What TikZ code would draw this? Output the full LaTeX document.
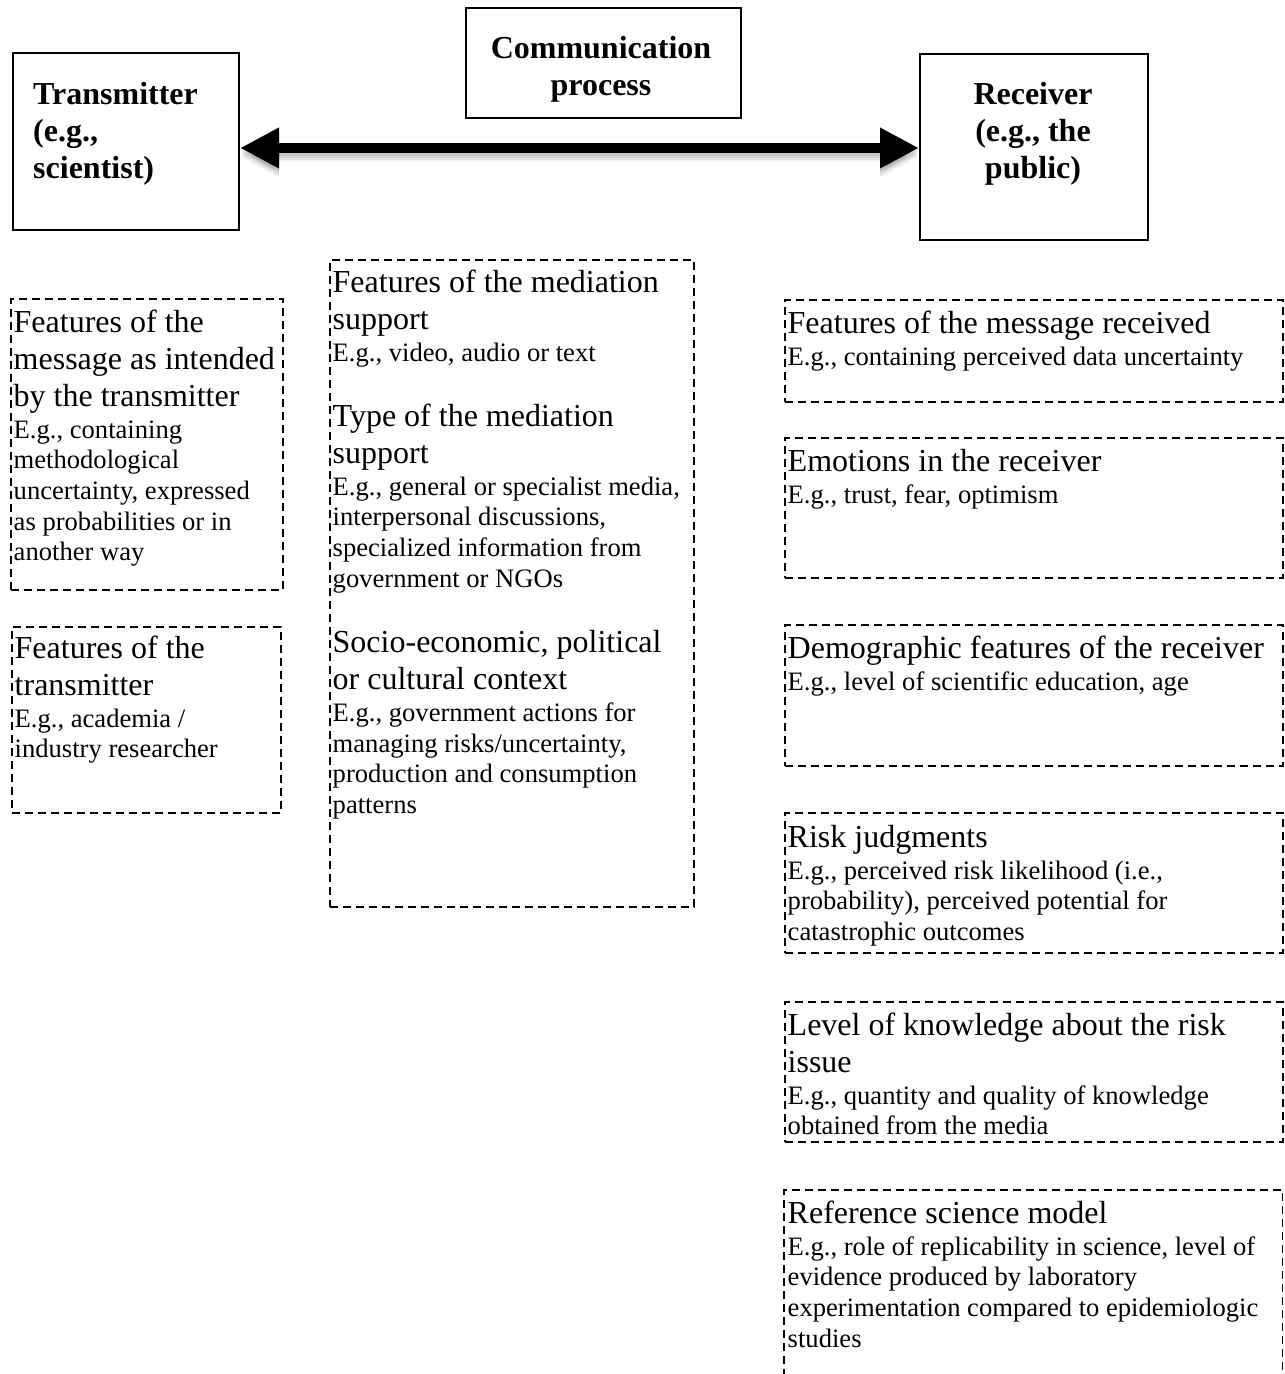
\documentclass[tikz,border=0pt]{standalone}
\usepackage{fontspec}
\setmainfont{Liberation Serif}
\usetikzlibrary{arrows.meta,calc}
\newcommand\HdFont{\fontsize{32}{37}\selectfont\frenchspacing\spaceskip=0pt\xspaceskip=0pt\relax}
\newcommand\SmFont{\fontsize{26.6}{30.7}\selectfont\frenchspacing\spaceskip=0pt\xspaceskip=0pt\relax}
\newcommand\BdFont{\fontsize{32}{37}\selectfont\bfseries\frenchspacing\spaceskip=0pt\xspaceskip=0pt\relax}
\newcommand\HdPar[1]{{\HdFont #1\par}}
\newcommand\SmPar[1]{\vskip 1.3pt{\SmFont #1\par}}
\newcommand\HdAfterSm{\vskip -2.5pt}
\newcommand\BlankSm{\vskip 30.7pt}
\begin{document}
\begin{tikzpicture}[x=1pt,y=-1pt,
  sbox/.style={draw=black, line width=2pt, rectangle, inner sep=0pt, anchor=north west},
  dbox/.style={draw=black, line width=1.5pt, dash pattern=on 8pt off 5pt, rectangle, inner sep=0pt, anchor=north west},
  obox/.style={rectangle, inner sep=0pt, anchor=north west},
  ttl/.style={inner sep=0pt, font=\BdFont, text width=250pt, align=flush center, anchor=base},
  ttll/.style={inner sep=0pt, font=\BdFont, text width=200pt, align=flush left, anchor=base west},
  txt/.style={inner sep=0pt, align=flush left, anchor=base west},
  bigarrow/.style={line width=10pt, {Triangle[length=39pt,width=38pt]}-{Triangle[length=39pt,width=38pt]}}
]
\useasboundingbox[fill=white] (0,0) rectangle (1285,1374);

% top boxes
\node[sbox, minimum width=226pt, minimum height=177pt] (T) at (12,52) {};
\node[ttll] (Tt) at (33,104) {\BdFont Transmitter\\(e.g.,\\scientist)};
\node[sbox, minimum width=275pt, minimum height=110pt] (C) at (465,7) {};
\node[ttl] (Ct) at (601,58) {\BdFont Communication\\process};
\node[sbox, minimum width=228pt, minimum height=186pt] (R) at (919,53) {};
\node[ttl] (Rt) at (1033,104) {\BdFont Receiver\\(e.g., the\\public)};

% arrow with soft shadow
\coordinate (ay) at (0,148);
\foreach \s/\o in {3/0.07,5/0.07,7/0.06,9/0.05}{
  \draw[bigarrow, black, opacity=\o] ([yshift=-\s pt]T.east |- ay) -- ([yshift=-\s pt]R.west |- ay);
}
\draw[bigarrow] (T.east |- ay) -- (R.west |- ay);

% left column
\node[dbox, minimum width=272pt, minimum height=291pt] (A) at (10,298) {};
\node[txt, text width=300pt] (At) at (13.5,332) {%
\HdPar{Features of the\\message as intended\\by the transmitter}%
\SmPar{E.g., containing\\methodological\\uncertainty, expressed\\as probabilities or in\\another way}};

\node[dbox, minimum width=269pt, minimum height=186pt] (B) at (11,626) {};
\node[txt, text width=300pt] (Bt) at (14.5,658) {%
\HdPar{Features of the\\transmitter}%
\SmPar{E.g., academia /\\industry researcher}};

% middle column
\node[dbox, minimum width=364pt, minimum height=647pt] (M) at (329,259) {};
\node[txt, text width=400pt] (Mt) at (332.5,292) {%
\HdPar{Features of the mediation\\support}%
\SmPar{E.g., video, audio or text}%
\BlankSm\HdAfterSm
\HdPar{Type of the mediation\\support}%
\SmPar{E.g., general or specialist media,\\interpersonal discussions,\\specialized information from\\government or NGOs}%
\BlankSm\HdAfterSm
\HdPar{Socio-economic, political\\or cultural context}%
\SmPar{E.g., government actions for\\managing risks/uncertainty,\\production and consumption\\patterns}};

% right column
\node[dbox, minimum width=498pt, minimum height=102pt] (D) at (784,299) {};
\node[txt, text width=520pt] (Dt) at (787.5,333) {%
\HdPar{Features of the message received}%
\SmPar{E.g., containing perceived data uncertainty}};

\node[dbox, minimum width=498pt, minimum height=140pt] (E) at (784,437) {};
\node[txt, text width=520pt] (Et) at (787.5,471) {%
\HdPar{Emotions in the receiver}%
\SmPar{E.g., trust, fear, optimism}};

\node[dbox, minimum width=498pt, minimum height=141pt] (F) at (784,624) {};
\node[txt, text width=520pt] (Ft) at (787.5,658) {%
\HdPar{Demographic features of the receiver}%
\SmPar{E.g., level of scientific education, age}};

\node[dbox, minimum width=498pt, minimum height=140pt] (G) at (784,812) {};
\node[txt, text width=520pt] (Gt) at (787.5,847) {%
\HdPar{Risk judgments}%
\SmPar{E.g., perceived risk likelihood (i.e.,\\probability), perceived potential for\\catastrophic outcomes}};

\node[dbox, minimum width=498pt, minimum height=140pt] (H) at (784,1001) {};
\node[txt, text width=520pt] (Ht) at (787.5,1035) {%
\HdPar{Level of knowledge about the risk\\issue}%
\SmPar{E.g., quantity and quality of knowledge\\obtained from the media}};

\node[obox, minimum width=498pt, minimum height=200pt] (I) at (784,1190) {};
\draw[line width=1.5pt, dash pattern=on 8pt off 5pt] (I.south west) -- (I.north west) -- (I.north east) -- (I.south east);
\node[txt, text width=520pt] (It) at (787.5,1223) {%
\HdPar{Reference science model}%
\SmPar{E.g., role of replicability in science, level of\\evidence produced by laboratory\\experimentation compared to epidemiologic\\studies}};
\end{tikzpicture}
\end{document}
